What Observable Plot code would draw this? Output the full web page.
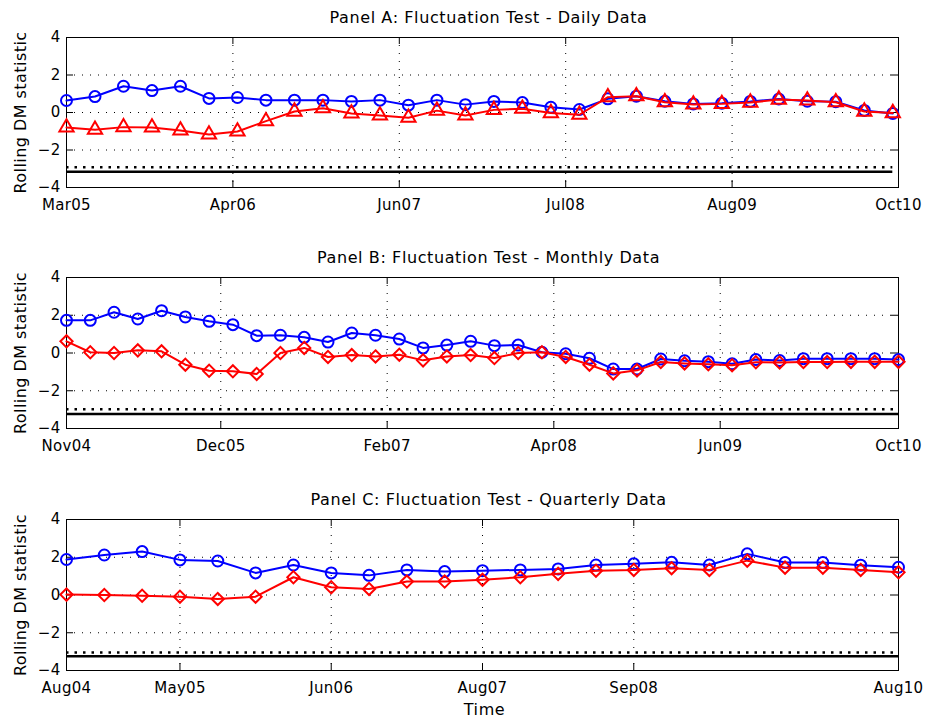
<!DOCTYPE html>
<html><head><meta charset="utf-8">
<script src="https://cdn.jsdelivr.net/npm/d3@7"></script>
<script src="https://cdn.jsdelivr.net/npm/@observablehq/plot@0.6"></script>
<style>
html,body{margin:0;padding:0;background:#fff;overflow:hidden}
#chart svg{display:block}
</style></head><body><div id="chart"></div>
<script>
// ---------- data ----------
const panelTitles = [
  "Panel A: Fluctuation Test - Daily Data",
  "Panel B: Fluctuation Test - Monthly Data",
  "Panel C: Fluctuation Test - Quarterly Data"
];
const yTicks = [-4, -2, 0, 2, 4];
const yLabel = "Rolling DM statistic";
const xLabel = "Time";

// Panel A (daily)
const dailyBlue = [0.64, 0.85, 1.40, 1.17, 1.40, 0.75, 0.80, 0.66, 0.66, 0.66, 0.59, 0.66, 0.39, 0.66, 0.42,
                   0.59, 0.53, 0.28, 0.16, 0.73, 0.87, 0.60, 0.46, 0.50, 0.59, 0.72, 0.60, 0.58, 0.11, -0.05];
const dailyRed  = [-0.80, -0.92, -0.78, -0.80, -0.96, -1.17, -1.01, -0.46, 0.05, 0.23, -0.05, -0.16, -0.28, 0.10, -0.16,
                   0.14, 0.20, -0.03, -0.12, 0.82, 0.87, 0.55, 0.43, 0.46, 0.53, 0.69, 0.64, 0.55, 0.05, -0.03];
const dailyTickLabels = ["Mar05", "Apr06", "Jun07", "Jul08", "Aug09", "Oct10"];
const dailyTickPos = [0, 5.84, 11.68, 17.52, 23.36, 29.2];
const dailyCrit = [-2.92, -3.16];

// Panel B (monthly)
const monthlyBlue = [1.73, 1.73, 2.16, 1.80, 2.24, 1.91, 1.68, 1.50, 0.92, 0.94, 0.83, 0.58, 1.06, 0.94, 0.74, 0.27, 0.42, 0.62,
                     0.39, 0.42, 0.04, -0.04, -0.28, -0.85, -0.85, -0.32, -0.41, -0.46, -0.57, -0.35, -0.40, -0.30, -0.30, -0.30, -0.30, -0.35];
const monthlyRed  = [0.62, 0.04, 0.00, 0.14, 0.09, -0.62, -0.94, -0.97, -1.11, 0.00, 0.27, -0.21, -0.11, -0.18, -0.09, -0.39, -0.18, -0.11,
                     -0.27, 0.00, 0.04, -0.21, -0.62, -1.08, -0.92, -0.48, -0.55, -0.60, -0.65, -0.49, -0.50, -0.48, -0.48, -0.47, -0.47, -0.47];
const monthlyTickLabels = ["Nov04", "Dec05", "Feb07", "Apr08", "Jun09", "Oct10"];
const monthlyTickPos = [0, 6.49, 13.49, 20.5, 27.5, 35];
const monthlyCrit = [-2.98, -3.23];

// Panel C (quarterly)
const quarterlyBlue = [1.88, 2.12, 2.30, 1.86, 1.80, 1.17, 1.59, 1.17, 1.04, 1.33, 1.24, 1.29, 1.33, 1.38, 1.59, 1.65,
                       1.73, 1.59, 2.18, 1.72, 1.72, 1.58, 1.47];
const quarterlyRed  = [0.02, 0.00, -0.04, -0.09, -0.21, -0.09, 0.94, 0.41, 0.32, 0.71, 0.71, 0.81, 0.94, 1.12, 1.29, 1.33,
                       1.42, 1.33, 1.82, 1.45, 1.45, 1.33, 1.20];
const quarterlyTickLabels = ["Aug04", "May05", "Jun06", "Aug07", "Sep08", "Aug10"];
const quarterlyTickPos = [0, 3, 7, 11, 15, 22];
const quarterlyCrit = [-3.05, -3.24];

// ---------- drawing ----------
const W = 927, ML = 66, MR = 29;
const BLUE = "#0000ff", RED = "#ff0000";

function panel(p) {
  const n = p.blue.length;
  const blueData = p.blue.map((v, i) => ({i, v}));
  const redData = p.red.map((v, i) => ({i, v}));
  const plotW = W - ML - MR;
  const plotH = p.height - p.marginTop - p.marginBottom;
  const gridX = p.tickPos.slice(1, -1);
  const gridY = yTicks.slice(1, -1);
  const dotted = {stroke: "#000", strokeWidth: 1, strokeDasharray: "1,7"};
  const marks = [
    Plot.ruleY(gridY, dotted),
    Plot.ruleX(gridX, dotted),
    Plot.ruleY([p.crit[0]], {x1: 0, x2: n - 1, stroke: "#000", strokeWidth: 2.5, strokeDasharray: "2.5,6"}),
    Plot.ruleY([p.crit[1]], {x1: 0, x2: n - 1, stroke: "#000", strokeWidth: 2.5}),
    Plot.tickY(yTicks, {y: d => d, insetRight: plotW - 7, stroke: "#000"}),
    Plot.tickY(yTicks, {y: d => d, insetLeft: plotW - 7, stroke: "#000"}),
    Plot.tickX(p.tickPos, {x: d => d, insetTop: plotH - 7, stroke: "#000"}),
    Plot.tickX(p.tickPos, {x: d => d, insetBottom: plotH - 7, stroke: "#000"}),
    Plot.frame({stroke: "#000", strokeWidth: 1}),
    Plot.line(blueData, {x: "i", y: "v", stroke: BLUE, strokeWidth: 2}),
    Plot.dot(blueData, {x: "i", y: "v", symbol: "circle", r: 5.5, stroke: BLUE, strokeWidth: 2, fill: "none"}),
    Plot.line(redData, {x: "i", y: "v", stroke: RED, strokeWidth: 2}),
    Plot.dot(redData, {x: "i", y: "v", symbol: p.redSymbol, r: p.redR, stroke: RED, strokeWidth: 2, fill: "none"}),
    Plot.axisY(yTicks, {tickSize: 0, tickPadding: 6, fontSize: 15, label: null}),
    Plot.axisX(p.tickPos, {tickSize: 0, tickPadding: 12, fontSize: 15, label: null,
      tickFormat: d => p.tickLabels[p.tickPos.indexOf(d)]}),
    Plot.text([p.title], {text: d => d, frameAnchor: "top", lineAnchor: "middle", textAnchor: "middle",
      dx: 6, dy: -20, fontSize: 16}),
    Plot.text([yLabel], {text: d => d, frameAnchor: "left", rotate: -90, textAnchor: "middle", lineAnchor: "middle",
      dx: -45.5, fontSize: 16})
  ];
  if (p.showXLabel) {
    marks.push(Plot.text([xLabel], {text: d => d, frameAnchor: "bottom", lineAnchor: "middle", textAnchor: "middle",
      dx: 2, dy: 39, fontSize: 16}));
  }
  const svg = Plot.plot({
    width: W, height: p.height,
    marginLeft: ML, marginRight: MR, marginTop: p.marginTop, marginBottom: p.marginBottom,
    x: {domain: [0, p.xMax]},
    y: {domain: [-4, 4]},
    style: {fontFamily: "DejaVu Sans", fontSize: "15px", color: "#000", background: "#fff", overflow: "visible"},
    marks
  });
  d3.select(svg).selectAll("text").each(function () {
    const t = this.textContent;
    if (t === p.title || t === xLabel) d3.select(this).style("letter-spacing", "0.6px");
    else if (t === yLabel) d3.select(this).style("letter-spacing", "0.45px");
    else d3.select(this).style("letter-spacing", "0.3px");
  });
  return svg;
}

const root = document.getElementById("chart");
root.appendChild(panel({title: panelTitles[0], blue: dailyBlue, red: dailyRed, redSymbol: "triangle", redR: 5.3,
  tickPos: dailyTickPos, tickLabels: dailyTickLabels, crit: dailyCrit, xMax: 29.2,
  height: 240, marginTop: 37, marginBottom: 53}));
root.appendChild(panel({title: panelTitles[1], blue: monthlyBlue, red: monthlyRed, redSymbol: "diamond2", redR: 5.5,
  tickPos: monthlyTickPos, tickLabels: monthlyTickLabels, crit: monthlyCrit, xMax: 35,
  height: 240, marginTop: 37, marginBottom: 52}));
root.appendChild(panel({title: panelTitles[2], blue: quarterlyBlue, red: quarterlyRed, redSymbol: "diamond2", redR: 5.5,
  tickPos: quarterlyTickPos, tickLabels: quarterlyTickLabels, crit: quarterlyCrit, xMax: 22,
  height: 239, marginTop: 39, marginBottom: 49, showXLabel: true}));
</script></body></html>
